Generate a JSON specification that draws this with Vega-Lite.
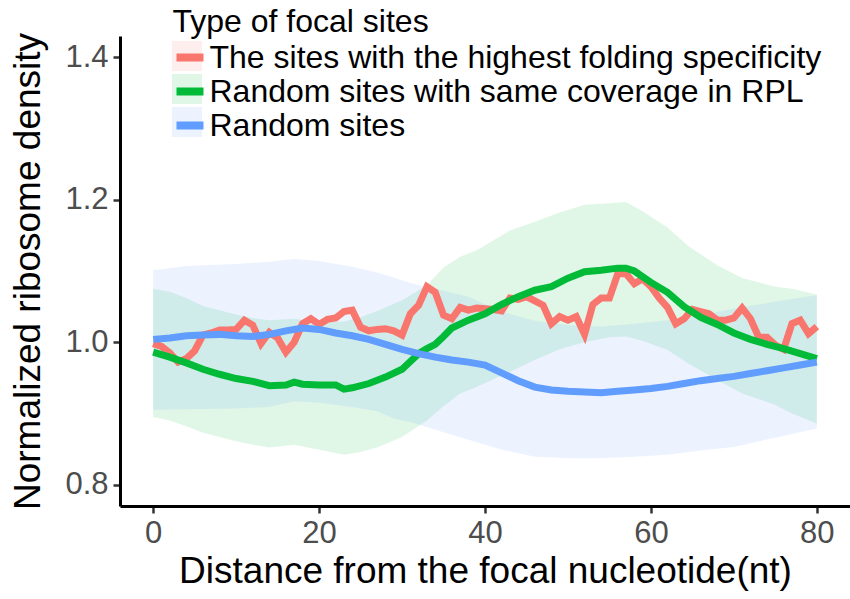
{
  "$schema": "https://vega.github.io/schema/vega-lite/v6.json",
  "width": 730,
  "height": 470,
  "autosize": {"type": "none"},
  "padding": {"left": 120, "top": 36, "right": 0, "bottom": 93},
  "background": "white",
  "datasets": {
    "lines": [
      {"series": "The sites with the highest folding specificity", "x": 0, "y": 0.998},
      {"series": "The sites with the highest folding specificity", "x": 1, "y": 0.994},
      {"series": "The sites with the highest folding specificity", "x": 2, "y": 0.985},
      {"series": "The sites with the highest folding specificity", "x": 3, "y": 0.972},
      {"series": "The sites with the highest folding specificity", "x": 4, "y": 0.977},
      {"series": "The sites with the highest folding specificity", "x": 5, "y": 0.988},
      {"series": "The sites with the highest folding specificity", "x": 6, "y": 1.010},
      {"series": "The sites with the highest folding specificity", "x": 7, "y": 1.013},
      {"series": "The sites with the highest folding specificity", "x": 8, "y": 1.017},
      {"series": "The sites with the highest folding specificity", "x": 9, "y": 1.017},
      {"series": "The sites with the highest folding specificity", "x": 10, "y": 1.018},
      {"series": "The sites with the highest folding specificity", "x": 11, "y": 1.031},
      {"series": "The sites with the highest folding specificity", "x": 12, "y": 1.024},
      {"series": "The sites with the highest folding specificity", "x": 13, "y": 0.998},
      {"series": "The sites with the highest folding specificity", "x": 14, "y": 1.014},
      {"series": "The sites with the highest folding specificity", "x": 15, "y": 1.006},
      {"series": "The sites with the highest folding specificity", "x": 16, "y": 0.986},
      {"series": "The sites with the highest folding specificity", "x": 17, "y": 1.000},
      {"series": "The sites with the highest folding specificity", "x": 18, "y": 1.026},
      {"series": "The sites with the highest folding specificity", "x": 19, "y": 1.033},
      {"series": "The sites with the highest folding specificity", "x": 20, "y": 1.025},
      {"series": "The sites with the highest folding specificity", "x": 21, "y": 1.032},
      {"series": "The sites with the highest folding specificity", "x": 22, "y": 1.034},
      {"series": "The sites with the highest folding specificity", "x": 23, "y": 1.043},
      {"series": "The sites with the highest folding specificity", "x": 24, "y": 1.045},
      {"series": "The sites with the highest folding specificity", "x": 25, "y": 1.021},
      {"series": "The sites with the highest folding specificity", "x": 26, "y": 1.016},
      {"series": "The sites with the highest folding specificity", "x": 27, "y": 1.018},
      {"series": "The sites with the highest folding specificity", "x": 28, "y": 1.019},
      {"series": "The sites with the highest folding specificity", "x": 29, "y": 1.016},
      {"series": "The sites with the highest folding specificity", "x": 30, "y": 1.010},
      {"series": "The sites with the highest folding specificity", "x": 31, "y": 1.040},
      {"series": "The sites with the highest folding specificity", "x": 32, "y": 1.052},
      {"series": "The sites with the highest folding specificity", "x": 33, "y": 1.078},
      {"series": "The sites with the highest folding specificity", "x": 34, "y": 1.070},
      {"series": "The sites with the highest folding specificity", "x": 35, "y": 1.038},
      {"series": "The sites with the highest folding specificity", "x": 36, "y": 1.033},
      {"series": "The sites with the highest folding specificity", "x": 37, "y": 1.049},
      {"series": "The sites with the highest folding specificity", "x": 38, "y": 1.045},
      {"series": "The sites with the highest folding specificity", "x": 39, "y": 1.048},
      {"series": "The sites with the highest folding specificity", "x": 40, "y": 1.047},
      {"series": "The sites with the highest folding specificity", "x": 41, "y": 1.046},
      {"series": "The sites with the highest folding specificity", "x": 42, "y": 1.044},
      {"series": "The sites with the highest folding specificity", "x": 43, "y": 1.062},
      {"series": "The sites with the highest folding specificity", "x": 44, "y": 1.060},
      {"series": "The sites with the highest folding specificity", "x": 45, "y": 1.064},
      {"series": "The sites with the highest folding specificity", "x": 46, "y": 1.058},
      {"series": "The sites with the highest folding specificity", "x": 47, "y": 1.052},
      {"series": "The sites with the highest folding specificity", "x": 48, "y": 1.026},
      {"series": "The sites with the highest folding specificity", "x": 49, "y": 1.036},
      {"series": "The sites with the highest folding specificity", "x": 50, "y": 1.031},
      {"series": "The sites with the highest folding specificity", "x": 51, "y": 1.036},
      {"series": "The sites with the highest folding specificity", "x": 52, "y": 1.011},
      {"series": "The sites with the highest folding specificity", "x": 53, "y": 1.053},
      {"series": "The sites with the highest folding specificity", "x": 54, "y": 1.062},
      {"series": "The sites with the highest folding specificity", "x": 55, "y": 1.062},
      {"series": "The sites with the highest folding specificity", "x": 56, "y": 1.096},
      {"series": "The sites with the highest folding specificity", "x": 57, "y": 1.096},
      {"series": "The sites with the highest folding specificity", "x": 58, "y": 1.082},
      {"series": "The sites with the highest folding specificity", "x": 59, "y": 1.089},
      {"series": "The sites with the highest folding specificity", "x": 60, "y": 1.078},
      {"series": "The sites with the highest folding specificity", "x": 61, "y": 1.062},
      {"series": "The sites with the highest folding specificity", "x": 62, "y": 1.049},
      {"series": "The sites with the highest folding specificity", "x": 63, "y": 1.026},
      {"series": "The sites with the highest folding specificity", "x": 64, "y": 1.033},
      {"series": "The sites with the highest folding specificity", "x": 65, "y": 1.046},
      {"series": "The sites with the highest folding specificity", "x": 66, "y": 1.043},
      {"series": "The sites with the highest folding specificity", "x": 67, "y": 1.040},
      {"series": "The sites with the highest folding specificity", "x": 68, "y": 1.031},
      {"series": "The sites with the highest folding specificity", "x": 69, "y": 1.031},
      {"series": "The sites with the highest folding specificity", "x": 70, "y": 1.034},
      {"series": "The sites with the highest folding specificity", "x": 71, "y": 1.048},
      {"series": "The sites with the highest folding specificity", "x": 72, "y": 1.033},
      {"series": "The sites with the highest folding specificity", "x": 73, "y": 1.007},
      {"series": "The sites with the highest folding specificity", "x": 74, "y": 1.007},
      {"series": "The sites with the highest folding specificity", "x": 75, "y": 0.996},
      {"series": "The sites with the highest folding specificity", "x": 76, "y": 0.990},
      {"series": "The sites with the highest folding specificity", "x": 77, "y": 1.026},
      {"series": "The sites with the highest folding specificity", "x": 78, "y": 1.031},
      {"series": "The sites with the highest folding specificity", "x": 79, "y": 1.012},
      {"series": "The sites with the highest folding specificity", "x": 80, "y": 1.022},
      {"series": "Random sites with same coverage in RPL", "x": 0, "y": 0.986},
      {"series": "Random sites with same coverage in RPL", "x": 2, "y": 0.979},
      {"series": "Random sites with same coverage in RPL", "x": 4, "y": 0.971},
      {"series": "Random sites with same coverage in RPL", "x": 6, "y": 0.962},
      {"series": "Random sites with same coverage in RPL", "x": 8, "y": 0.955},
      {"series": "Random sites with same coverage in RPL", "x": 10, "y": 0.949},
      {"series": "Random sites with same coverage in RPL", "x": 12, "y": 0.945},
      {"series": "Random sites with same coverage in RPL", "x": 14, "y": 0.939},
      {"series": "Random sites with same coverage in RPL", "x": 16, "y": 0.940},
      {"series": "Random sites with same coverage in RPL", "x": 17, "y": 0.944},
      {"series": "Random sites with same coverage in RPL", "x": 18, "y": 0.941},
      {"series": "Random sites with same coverage in RPL", "x": 20, "y": 0.940},
      {"series": "Random sites with same coverage in RPL", "x": 22, "y": 0.940},
      {"series": "Random sites with same coverage in RPL", "x": 23, "y": 0.934},
      {"series": "Random sites with same coverage in RPL", "x": 24, "y": 0.936},
      {"series": "Random sites with same coverage in RPL", "x": 26, "y": 0.942},
      {"series": "Random sites with same coverage in RPL", "x": 28, "y": 0.951},
      {"series": "Random sites with same coverage in RPL", "x": 30, "y": 0.962},
      {"series": "Random sites with same coverage in RPL", "x": 31, "y": 0.973},
      {"series": "Random sites with same coverage in RPL", "x": 32, "y": 0.984},
      {"series": "Random sites with same coverage in RPL", "x": 33, "y": 0.991},
      {"series": "Random sites with same coverage in RPL", "x": 34, "y": 0.997},
      {"series": "Random sites with same coverage in RPL", "x": 35, "y": 1.008},
      {"series": "Random sites with same coverage in RPL", "x": 36, "y": 1.020},
      {"series": "Random sites with same coverage in RPL", "x": 38, "y": 1.031},
      {"series": "Random sites with same coverage in RPL", "x": 40, "y": 1.040},
      {"series": "Random sites with same coverage in RPL", "x": 42, "y": 1.053},
      {"series": "Random sites with same coverage in RPL", "x": 44, "y": 1.064},
      {"series": "Random sites with same coverage in RPL", "x": 46, "y": 1.073},
      {"series": "Random sites with same coverage in RPL", "x": 48, "y": 1.078},
      {"series": "Random sites with same coverage in RPL", "x": 50, "y": 1.090},
      {"series": "Random sites with same coverage in RPL", "x": 52, "y": 1.099},
      {"series": "Random sites with same coverage in RPL", "x": 54, "y": 1.101},
      {"series": "Random sites with same coverage in RPL", "x": 56, "y": 1.104},
      {"series": "Random sites with same coverage in RPL", "x": 57, "y": 1.104},
      {"series": "Random sites with same coverage in RPL", "x": 58, "y": 1.100},
      {"series": "Random sites with same coverage in RPL", "x": 60, "y": 1.084},
      {"series": "Random sites with same coverage in RPL", "x": 62, "y": 1.070},
      {"series": "Random sites with same coverage in RPL", "x": 64, "y": 1.050},
      {"series": "Random sites with same coverage in RPL", "x": 66, "y": 1.035},
      {"series": "Random sites with same coverage in RPL", "x": 68, "y": 1.025},
      {"series": "Random sites with same coverage in RPL", "x": 70, "y": 1.013},
      {"series": "Random sites with same coverage in RPL", "x": 72, "y": 1.004},
      {"series": "Random sites with same coverage in RPL", "x": 74, "y": 0.997},
      {"series": "Random sites with same coverage in RPL", "x": 76, "y": 0.991},
      {"series": "Random sites with same coverage in RPL", "x": 78, "y": 0.984},
      {"series": "Random sites with same coverage in RPL", "x": 80, "y": 0.977},
      {"series": "Random sites", "x": 0, "y": 1.004},
      {"series": "Random sites", "x": 2, "y": 1.006},
      {"series": "Random sites", "x": 4, "y": 1.009},
      {"series": "Random sites", "x": 6, "y": 1.010},
      {"series": "Random sites", "x": 8, "y": 1.011},
      {"series": "Random sites", "x": 10, "y": 1.009},
      {"series": "Random sites", "x": 12, "y": 1.008},
      {"series": "Random sites", "x": 14, "y": 1.011},
      {"series": "Random sites", "x": 16, "y": 1.016},
      {"series": "Random sites", "x": 18, "y": 1.020},
      {"series": "Random sites", "x": 20, "y": 1.018},
      {"series": "Random sites", "x": 22, "y": 1.013},
      {"series": "Random sites", "x": 24, "y": 1.009},
      {"series": "Random sites", "x": 26, "y": 1.004},
      {"series": "Random sites", "x": 28, "y": 0.997},
      {"series": "Random sites", "x": 30, "y": 0.990},
      {"series": "Random sites", "x": 32, "y": 0.984},
      {"series": "Random sites", "x": 34, "y": 0.979},
      {"series": "Random sites", "x": 36, "y": 0.975},
      {"series": "Random sites", "x": 38, "y": 0.972},
      {"series": "Random sites", "x": 40, "y": 0.968},
      {"series": "Random sites", "x": 42, "y": 0.957},
      {"series": "Random sites", "x": 44, "y": 0.946},
      {"series": "Random sites", "x": 46, "y": 0.937},
      {"series": "Random sites", "x": 48, "y": 0.933},
      {"series": "Random sites", "x": 50, "y": 0.931},
      {"series": "Random sites", "x": 52, "y": 0.930},
      {"series": "Random sites", "x": 54, "y": 0.929},
      {"series": "Random sites", "x": 56, "y": 0.931},
      {"series": "Random sites", "x": 58, "y": 0.933},
      {"series": "Random sites", "x": 60, "y": 0.935},
      {"series": "Random sites", "x": 62, "y": 0.938},
      {"series": "Random sites", "x": 64, "y": 0.942},
      {"series": "Random sites", "x": 66, "y": 0.946},
      {"series": "Random sites", "x": 68, "y": 0.949},
      {"series": "Random sites", "x": 70, "y": 0.952},
      {"series": "Random sites", "x": 72, "y": 0.956},
      {"series": "Random sites", "x": 74, "y": 0.960},
      {"series": "Random sites", "x": 76, "y": 0.964},
      {"series": "Random sites", "x": 78, "y": 0.968},
      {"series": "Random sites", "x": 80, "y": 0.972}
    ],
    "bands": [
      {"series": "Random sites with same coverage in RPL", "x": 0, "lo": 0.895, "hi": 1.075},
      {"series": "Random sites with same coverage in RPL", "x": 2, "lo": 0.890, "hi": 1.071},
      {"series": "Random sites with same coverage in RPL", "x": 4, "lo": 0.882, "hi": 1.062},
      {"series": "Random sites with same coverage in RPL", "x": 6, "lo": 0.873, "hi": 1.051},
      {"series": "Random sites with same coverage in RPL", "x": 8, "lo": 0.867, "hi": 1.045},
      {"series": "Random sites with same coverage in RPL", "x": 10, "lo": 0.861, "hi": 1.039},
      {"series": "Random sites with same coverage in RPL", "x": 12, "lo": 0.856, "hi": 1.034},
      {"series": "Random sites with same coverage in RPL", "x": 14, "lo": 0.852, "hi": 1.031},
      {"series": "Random sites with same coverage in RPL", "x": 17, "lo": 0.856, "hi": 1.033},
      {"series": "Random sites with same coverage in RPL", "x": 20, "lo": 0.849, "hi": 1.028},
      {"series": "Random sites with same coverage in RPL", "x": 23, "lo": 0.842, "hi": 1.029},
      {"series": "Random sites with same coverage in RPL", "x": 25, "lo": 0.846, "hi": 1.035},
      {"series": "Random sites with same coverage in RPL", "x": 27, "lo": 0.852, "hi": 1.044},
      {"series": "Random sites with same coverage in RPL", "x": 30, "lo": 0.867, "hi": 1.059},
      {"series": "Random sites with same coverage in RPL", "x": 33, "lo": 0.890, "hi": 1.080},
      {"series": "Random sites with same coverage in RPL", "x": 35, "lo": 0.910, "hi": 1.105},
      {"series": "Random sites with same coverage in RPL", "x": 37, "lo": 0.928, "hi": 1.120},
      {"series": "Random sites with same coverage in RPL", "x": 39, "lo": 0.937, "hi": 1.129},
      {"series": "Random sites with same coverage in RPL", "x": 41, "lo": 0.948, "hi": 1.143},
      {"series": "Random sites with same coverage in RPL", "x": 43, "lo": 0.958, "hi": 1.157},
      {"series": "Random sites with same coverage in RPL", "x": 46, "lo": 0.975, "hi": 1.169},
      {"series": "Random sites with same coverage in RPL", "x": 49, "lo": 0.990, "hi": 1.182},
      {"series": "Random sites with same coverage in RPL", "x": 52, "lo": 1.000, "hi": 1.193},
      {"series": "Random sites with same coverage in RPL", "x": 55, "lo": 1.007, "hi": 1.195},
      {"series": "Random sites with same coverage in RPL", "x": 57, "lo": 1.008, "hi": 1.197},
      {"series": "Random sites with same coverage in RPL", "x": 59, "lo": 1.002, "hi": 1.184},
      {"series": "Random sites with same coverage in RPL", "x": 62, "lo": 0.989, "hi": 1.161},
      {"series": "Random sites with same coverage in RPL", "x": 64.5, "lo": 0.970, "hi": 1.135},
      {"series": "Random sites with same coverage in RPL", "x": 68, "lo": 0.947, "hi": 1.108},
      {"series": "Random sites with same coverage in RPL", "x": 71, "lo": 0.928, "hi": 1.090},
      {"series": "Random sites with same coverage in RPL", "x": 75, "lo": 0.912, "hi": 1.078},
      {"series": "Random sites with same coverage in RPL", "x": 77, "lo": 0.900, "hi": 1.075},
      {"series": "Random sites with same coverage in RPL", "x": 80, "lo": 0.886, "hi": 1.067},
      {"series": "Random sites", "x": 0, "lo": 0.905, "hi": 1.101},
      {"series": "Random sites", "x": 4, "lo": 0.906, "hi": 1.107},
      {"series": "Random sites", "x": 10, "lo": 0.907, "hi": 1.110},
      {"series": "Random sites", "x": 14, "lo": 0.909, "hi": 1.113},
      {"series": "Random sites", "x": 17, "lo": 0.917, "hi": 1.117},
      {"series": "Random sites", "x": 20, "lo": 0.915, "hi": 1.114},
      {"series": "Random sites", "x": 24, "lo": 0.909, "hi": 1.106},
      {"series": "Random sites", "x": 27, "lo": 0.903, "hi": 1.098},
      {"series": "Random sites", "x": 29, "lo": 0.893, "hi": 1.091},
      {"series": "Random sites", "x": 31, "lo": 0.888, "hi": 1.083},
      {"series": "Random sites", "x": 34, "lo": 0.877, "hi": 1.075},
      {"series": "Random sites", "x": 38, "lo": 0.863, "hi": 1.064},
      {"series": "Random sites", "x": 42, "lo": 0.849, "hi": 1.043},
      {"series": "Random sites", "x": 46, "lo": 0.839, "hi": 1.030},
      {"series": "Random sites", "x": 50, "lo": 0.837, "hi": 1.024},
      {"series": "Random sites", "x": 54, "lo": 0.837, "hi": 1.022},
      {"series": "Random sites", "x": 58, "lo": 0.839, "hi": 1.026},
      {"series": "Random sites", "x": 62, "lo": 0.842, "hi": 1.031},
      {"series": "Random sites", "x": 66, "lo": 0.848, "hi": 1.038},
      {"series": "Random sites", "x": 70, "lo": 0.853, "hi": 1.047},
      {"series": "Random sites", "x": 75, "lo": 0.866, "hi": 1.057},
      {"series": "Random sites", "x": 80, "lo": 0.879, "hi": 1.066}
    ]
  },
  "layer": [
    {
      "data": {"name": "bands"},
      "mark": {"type": "area", "fillOpacity": 0.12, "strokeWidth": 0},
      "encoding": {
        "x": {"field": "x", "type": "quantitative", "scale": {"domain": [-4, 84], "nice": false, "zero": false}, "axis": {"values": [0, 20, 40, 60, 80]}, "title": "Distance from the focal nucleotide(nt)"},
        "y": {"field": "lo", "type": "quantitative", "scale": {"domain": [0.77, 1.43], "nice": false, "zero": false}, "axis": {"values": [0.8, 1.0, 1.2, 1.4], "format": ".1f"}, "title": "Normalized ribosome density"},
        "y2": {"field": "hi"},
        "fill": {
          "field": "series",
          "type": "nominal",
          "scale": {
            "domain": ["The sites with the highest folding specificity", "Random sites with same coverage in RPL", "Random sites"],
            "range": ["#F8766D", "#00BA38", "#619CFF"]
          },
          "legend": {
            "orient": "none", "legendX": 51, "legendY": -29,
            "title": "Type of focal sites", "titleOpacity": 0,
            "labelExpr": "''",
            "symbolType": "square", "symbolSize": 900, "symbolOpacity": 0.12, "symbolStrokeWidth": 0,
            "rowPadding": 1,
            "zindex": 1
          }
        }
      }
    },
    {
      "data": {"name": "lines"},
      "mark": {"type": "line", "strokeWidth": 7},
      "encoding": {
        "x": {"field": "x", "type": "quantitative", "title": "Distance from the focal nucleotide(nt)"},
        "y": {"field": "y", "type": "quantitative", "title": "Normalized ribosome density"},
        "stroke": {
          "field": "series",
          "type": "nominal",
          "sort": ["The sites with the highest folding specificity", "Random sites with same coverage in RPL", "Random sites"],
          "scale": {"range": ["#F8766D", "#00BA38", "#619CFF"]},
          "legend": {
            "orient": "none", "legendX": 52.5, "legendY": -29,
            "title": "Type of focal sites",
            "symbolType": "stroke", "symbolSize": 729, "symbolStrokeWidth": 8,
            "rowPadding": -1,
            "zindex": 2
          }
        }
      }
    },
    {
      "mark": {"type": "rule", "color": "black", "strokeWidth": 5.5, "strokeDash": [25.7, 25.6]},
      "encoding": {"y": {"datum": 1}}
    }
  ],
  "config": {
    "view": {"stroke": null},
    "font": "Liberation Sans",
    "axis": {
      "grid": false,
      "domainColor": "black",
      "domainWidth": 3,
      "tickColor": "#333333",
      "tickWidth": 2.5,
      "tickSize": 7,
      "labelFontSize": 31,
      "labelColor": "#4D4D4D",
      "labelPadding": 5,
      "labelFlush": false,
      "labelOverlap": false,
      "titleFontSize": 37,
      "titleFontWeight": "normal",
      "titleColor": "black"
    },
    "axisX": {"titlePadding": 5},
    "axisY": {"titlePadding": 17},
    "legend": {
      "padding": 0,
      "titleFontSize": 32,
      "titleFontWeight": "normal",
      "titleColor": "black",
      "titlePadding": 1,
      "titleLimit": 0,
      "labelFontSize": 32,
      "labelColor": "black",
      "labelOffset": 2,
      "labelLimit": 0
    }
  }
}
